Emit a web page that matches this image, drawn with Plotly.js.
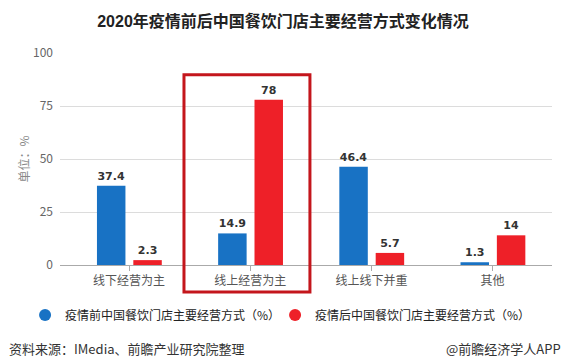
<!DOCTYPE html>
<html>
<head>
<meta charset="utf-8">
<script src="https://cdn.plot.ly/plotly-3.0.1.min.js"></script>
<style>html,body{margin:0;padding:0;background:#fff;}#chart{width:566px;height:364px;}</style>
</head>
<body>
<div id="chart"></div>
<script>
const categories = ["线下经营为主", "线上经营为主", "线上线下并重", "其他"];
const beforeValues = [37.4, 14.9, 46.4, 1.3];
const afterValues = [2.3, 78, 5.7, 14];
const beforeName = "疫情前中国餐饮门店主要经营方式（%）";
const afterName = "疫情后中国餐饮门店主要经营方式（%）";
const yTicks = [0, 25, 50, 75, 100];

const BLUE = "#1872c4";
const RED = "#ee2028";
const CJK = "'Noto Sans CJK SC', 'Noto Sans', sans-serif";
const idx = categories.map((c, i) => i);

const labelFont = {family: "'DejaVu Sans', Verdana, sans-serif", size: 11, color: "#333", weight: "bold"};

const traces = [
  {type: "bar", x: idx, y: beforeValues, name: beforeName, showlegend: false,
   marker: {color: BLUE}, width: 0.235, offset: -0.265,
   text: beforeValues.map(String), textposition: "outside", cliponaxis: false,
   textfont: labelFont, hoverinfo: "none"},
  {type: "bar", x: idx, y: afterValues, name: afterName, showlegend: false,
   marker: {color: RED}, width: 0.235, offset: 0.035,
   text: afterValues.map(String), textposition: "outside", cliponaxis: false,
   textfont: labelFont, hoverinfo: "none"},
  {type: "scatter", mode: "markers", x: [null], y: [null], name: beforeName,
   marker: {color: BLUE, size: 12, symbol: "circle"}},
  {type: "scatter", mode: "markers", x: [null], y: [null], name: afterName,
   marker: {color: RED, size: 12, symbol: "circle"}}
];

const layout = {
  width: 566, height: 364,
  margin: {l: 60, r: 14, t: 53, b: 99},
  paper_bgcolor: "#fff", plot_bgcolor: "#fff",
  font: {family: CJK, color: "#555", size: 12},
  barmode: "overlay",
  xaxis: {
    range: [-0.57, 3.49], tickmode: "array", tickvals: idx, ticktext: categories,
    showgrid: false, zeroline: false, showline: true, linecolor: "#aaa", linewidth: 1,
    ticks: "outside", ticklen: 5, tickcolor: "#aaa",
    tickfont: {family: CJK, size: 12, color: "#555"}, fixedrange: true
  },
  yaxis: {
    range: [0, 100], tickmode: "array", tickvals: yTicks,
    showgrid: true, gridcolor: "#dcdcdc", gridwidth: 1, zeroline: false, showline: false,
    ticks: "", ticklabelstandoff: 6,
    tickfont: {family: CJK, size: 12, color: "#666"},
    title: {text: "单位：%", font: {family: CJK, size: 12, color: "#888"}, standoff: 0},
    fixedrange: true
  },
  title: {
    text: "<b>2020年疫情前后中国餐饮门店主要经营方式变化情况</b>",
    font: {family: "'Liberation Sans', 'Noto Sans CJK SC', sans-serif", size: 16, color: "#222"},
    x: 0.5, xanchor: "center", xref: "container", y: 1 - 21.7 / 364, yanchor: "middle", yref: "container"
  },
  legend: {
    orientation: "h", x: -0.071, xanchor: "left", y: -0.236, yanchor: "middle",
    font: {family: CJK, size: 12, color: "#222"},
    entrywidth: 205, entrywidthmode: "pixels", itemclick: false
  },
  shapes: [
    {type: "rect", xref: "paper", yref: "paper", x0: 0.252, x1: 0.508, y0: -0.127, y1: 0.897,
     line: {color: "#c4161c", width: 3}, fillcolor: "rgba(0,0,0,0)"}
  ],
  annotations: [
    {xref: "paper", yref: "paper", x: -0.1077, y: -0.394, xanchor: "left", yanchor: "middle",
     text: "资料来源：IMedia、前瞻产业研究院整理", showarrow: false,
     font: {family: CJK, size: 13, color: "#333"}},
    {xref: "paper", yref: "paper", x: 1.0224, y: -0.394, xanchor: "right", yanchor: "middle",
     text: "@前瞻经济学人APP", showarrow: false,
     font: {family: CJK, size: 13, color: "#333"}}
  ]
};

Plotly.newPlot("chart", traces, layout, {displayModeBar: false, staticPlot: true});
</script>
</body>
</html>
